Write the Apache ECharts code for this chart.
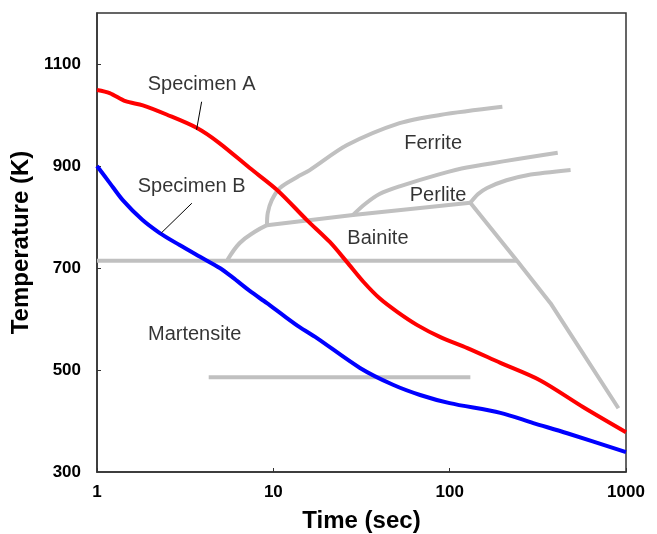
<!DOCTYPE html>
<html>
<head>
<meta charset="utf-8">
<script src="https://cdn.jsdelivr.net/npm/echarts@6.0.0/dist/echarts.min.js"></script>
<style>
  html, body { margin: 0; padding: 0; background: #fff; }
  #main { width: 657px; height: 534px; }
</style>
</head>
<body>
<div id="main"></div>
<script>
// cooling curves [time (s), temperature (K)]
var specimenA = [[1, 1049], [1.18, 1043], [1.45, 1027], [1.82, 1019], [2.48, 1001], [3.67, 975], [4.9, 946], [7.35, 896], [10.5, 853], [15.5, 794], [20.9, 751], [26.1, 712], [32.4, 673], [40.2, 640], [50.4, 614], [65.5, 588], [88, 565], [126, 543], [194, 514], [325, 480], [573, 427], [1000, 378]];
var specimenB = [[1, 900], [1.18, 867], [1.4, 833], [1.8, 795], [2.26, 769], [2.94, 745], [3.84, 722], [4.97, 700], [5.9, 681], [7.35, 655], [9.2, 631], [11.3, 608], [14.1, 584], [17.6, 563], [31, 504], [47.7, 471], [68, 451], [100, 435], [194, 416], [298, 396], [464, 376], [1000, 339]];

// CCT diagram boundaries
var msLine = [[1, 714], [241, 714]];
var mfLine = [[4.3, 486], [131, 486]];
var bainiteNose = [[5.5, 716], [6.45, 749], [7.85, 771], [9.2, 784]];
var bainiteTop = [[9.2, 784], [28.3, 804], [131, 828]];
var ferriteStart = [[9.2, 784], [9.3, 808], [9.8, 833], [10.9, 857], [13.6, 878], [16.1, 892], [26.2, 941], [52, 984], [88, 1000], [199, 1016]];
var perliteStart = [[28.3, 804], [33, 825], [40, 845], [52, 860], [88, 884], [125, 897], [410, 926]];
var perliteFinish = [[131, 828], [145, 845], [163, 857], [210, 872], [275, 882], [485, 892]];
var noseDown = [[131, 828], [241, 714], [373, 631], [906, 425]];

// leader lines for the specimen labels
var leaderA = [[3.92, 1026], [3.67, 971]];
var leaderB = [[3.45, 827], [2.32, 769]];

var labels = [
  ["Specimen A", 3.92, 1059],
  ["Specimen B", 3.44, 859],
  ["Ferrite", 80.6, 945],
  ["Perlite", 86, 843],
  ["Bainite", 39.2, 757],
  ["Martensite", 3.58, 569]
];

var yLabels = [300, 500, 700, 900, 1100];

var myChart = echarts.init(document.getElementById("main"));

function grayLine(d, smooth) {
  return {
    type: "line",
    data: d,
    smooth: smooth,
    showSymbol: false,
    silent: true,
    lineStyle: { color: "#c0c0c0", width: 4 },
    z: 1
  };
}

function leader(d) {
  return {
    type: "line",
    data: d,
    showSymbol: false,
    silent: true,
    lineStyle: { color: "#000", width: 1 },
    z: 3
  };
}

var option = {
  animation: false,
  textStyle: { fontFamily: "Liberation Sans, Arial, sans-serif" },
  grid: {
    left: 97,
    right: 31,
    top: 13,
    bottom: 62,
    outerBoundsMode: "none",
    show: true,
    borderColor: "#333",
    borderWidth: 1.5
  },
  xAxis: {
    type: "log",
    logBase: 10,
    min: 1,
    max: 1000,
    name: "Time (sec)",
    nameLocation: "middle",
    nameGap: 37,
    nameTextStyle: { fontSize: 24, fontWeight: "bold", color: "#000" },
    axisLine: { lineStyle: { color: "#333", width: 1.5 } },
    axisTick: { inside: true, length: 4, lineStyle: { color: "#333" } },
    axisLabel: {
      fontSize: 17, fontWeight: "bold", color: "#000", margin: 12,
      formatter: function (v) { return String(v); }
    },
    splitLine: { show: false },
    minorTick: { show: false }
  },
  yAxis: {
    type: "value",
    min: 300,
    max: 1200,
    name: "Temperature (K)",
    nameLocation: "middle",
    nameGap: 56,
    nameTextStyle: { fontSize: 24, fontWeight: "bold", color: "#000" },
    axisLine: { show: true, lineStyle: { color: "#333", width: 1.5 } },
    axisTick: { show: true, inside: true, length: 4, customValues: [500, 700, 900, 1100], lineStyle: { color: "#333" } },
    axisLabel: {
      fontSize: 17, fontWeight: "bold", color: "#000", margin: 16, customValues: yLabels,
      formatter: function (v) { return String(v); }
    },
    splitLine: { show: false }
  },
  series: [
    grayLine(msLine, false),
    grayLine(mfLine, false),
    grayLine(bainiteNose, 0.4),
    grayLine(bainiteTop, false),
    grayLine(ferriteStart, 0.3),
    grayLine(perliteStart, 0.3),
    grayLine(perliteFinish, 0.3),
    grayLine(noseDown, false),
    {
      name: "Specimen A",
      type: "line",
      data: specimenA,
      smooth: 0.3,
      showSymbol: false,
      lineStyle: { color: "#ff0000", width: 4 },
      z: 2
    },
    {
      name: "Specimen B",
      type: "line",
      data: specimenB,
      smooth: 0.3,
      showSymbol: false,
      lineStyle: { color: "#0000ff", width: 4 },
      z: 2
    },
    leader(leaderA),
    leader(leaderB),
    {
      type: "scatter",
      symbolSize: 1,
      silent: true,
      itemStyle: { color: "rgba(0,0,0,0)" },
      label: {
        show: true,
        position: "inside",
        formatter: "{b}",
        fontSize: 20,
        color: "#000"
      },
      data: labels.map(function (l) {
        return { name: l[0], value: [l[1], l[2]] };
      }),
      z: 4
    }
  ]
};

option && myChart.setOption(option);
</script>
</body>
</html>
